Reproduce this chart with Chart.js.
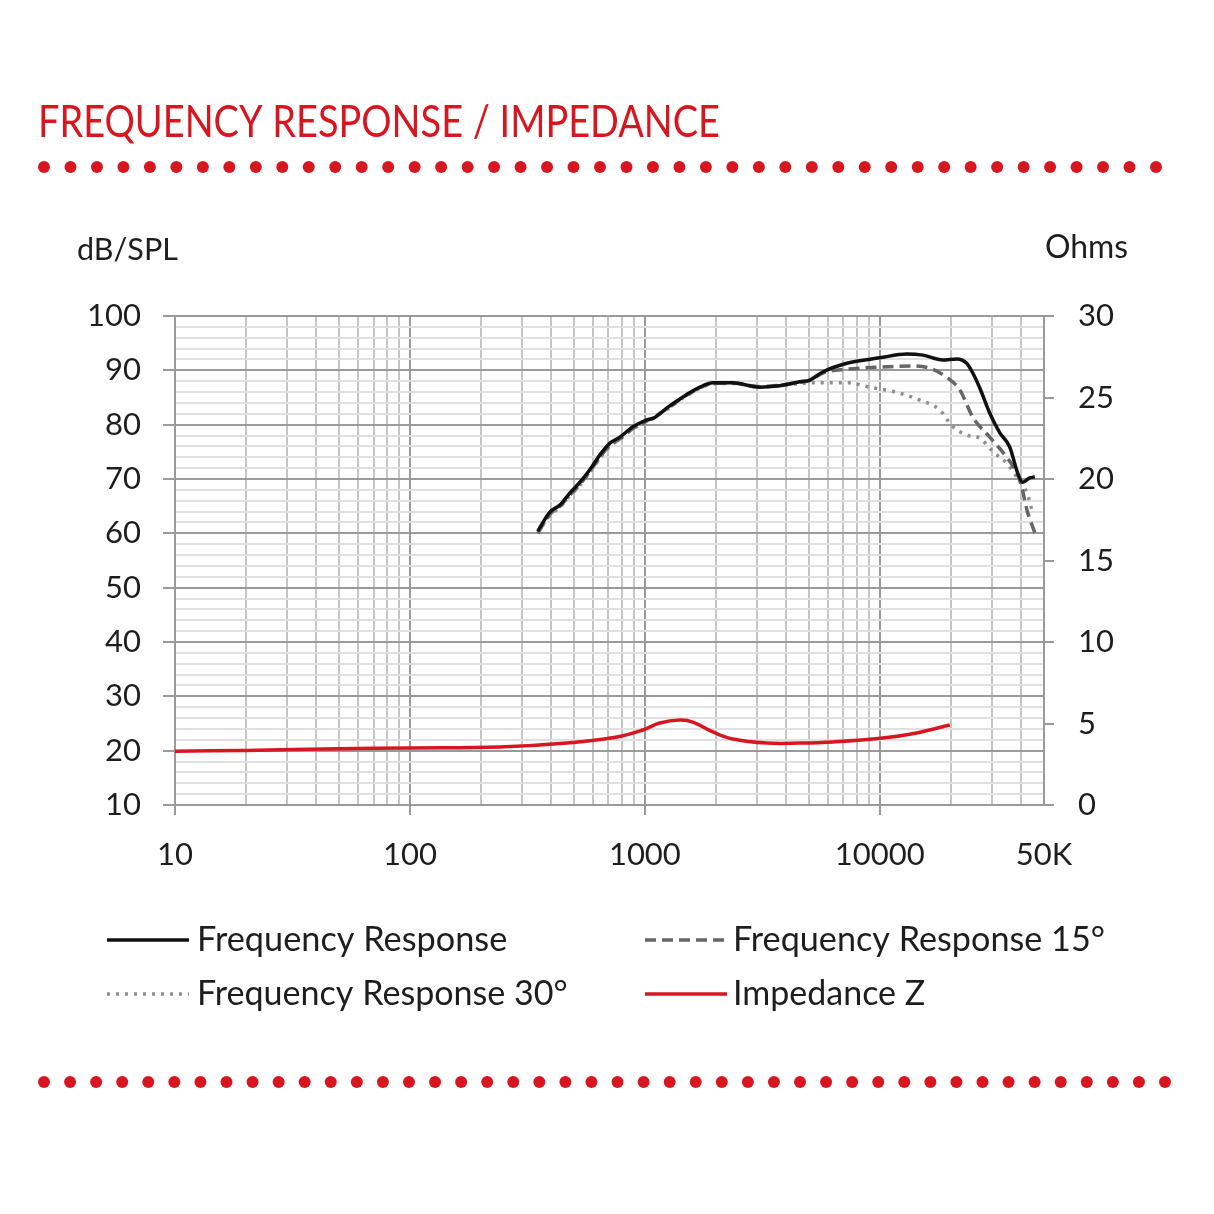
<!DOCTYPE html>
<html>
<head>
<meta charset="utf-8">
<style>
  html, body { margin: 0; padding: 0; background: #fff; }
  #wrap { width: 1214px; height: 1214px; }
</style>
<script src="https://cdn.jsdelivr.net/npm/chart.js@4.4.1/dist/chart.umd.min.js"></script>
</head>
<body>
<div id="wrap"><canvas id="frChart" width="1214" height="1214"></canvas></div>
<script>
// frequency response, 0 deg
const frFreq = [350, 394, 435, 479, 529, 583, 643, 710, 783, 889, 1020, 1090, 1242, 1452, 1715, 1947, 2366, 3083, 3646, 4570, 5035, 5715, 7240, 10000, 13030, 15240, 18530, 21270, 23440, 24880, 26670, 29390, 32430, 35730, 38640, 40600, 43480, 45700];
const frDb = [60.4, 63.9, 65.2, 67.4, 69.4, 71.7, 74.4, 76.6, 77.7, 79.6, 80.9, 81.2, 83.1, 85.1, 86.9, 87.7, 87.7, 86.9, 87.1, 87.9, 88.2, 89.7, 91.3, 92.3, 93.0, 92.8, 91.9, 92.1, 91.3, 89.5, 86.7, 82.1, 78.5, 75.9, 71.1, 69.4, 70.2, 70.4];

// 15 deg
const fr15Freq = [350, 394, 435, 479, 529, 583, 643, 710, 783, 889, 1020, 1242, 1452, 1715, 1947, 2366, 3083, 3646, 4570, 5035, 5715, 7240, 10000, 13740, 16270, 19150, 21900, 24880, 29390, 34700, 38300, 40200, 42300, 45700];
const fr15Db = [60.0, 63.5, 65.0, 67.0, 69.0, 71.4, 74.0, 76.2, 77.4, 79.3, 80.7, 82.9, 85.0, 86.8, 87.6, 87.6, 87.0, 87.2, 87.8, 88.1, 89.5, 90.2, 90.6, 90.8, 90.4, 88.8, 86.4, 81.4, 77.7, 74.0, 71.1, 68.5, 64.3, 60.1];

// 30 deg
const fr30Freq = [350, 394, 435, 479, 529, 583, 643, 710, 783, 889, 1020, 1242, 1452, 1715, 1947, 2366, 3083, 3646, 4570, 5200, 7240, 9040, 11640, 14840, 18000, 20500, 23440, 26670, 30400, 34700, 38300, 42300, 44800];
const fr30Db = [60.2, 63.3, 64.8, 66.9, 68.8, 71.2, 73.8, 76.0, 77.3, 79.2, 80.6, 82.8, 84.9, 86.7, 87.5, 87.6, 87.0, 87.1, 87.6, 87.7, 87.7, 86.9, 86.0, 84.5, 82.7, 79.6, 78.1, 77.5, 75.0, 72.9, 70.4, 67.4, 63.7];

// impedance
const zFreq = [10, 20, 50, 100, 241, 466, 760, 980, 1158, 1409, 1600, 1947, 2366, 3300, 4570, 6320, 10300, 14360, 19860];
const zOhm = [3.3, 3.35, 3.45, 3.5, 3.56, 3.8, 4.17, 4.6, 5.03, 5.21, 5.09, 4.48, 4.05, 3.8, 3.8, 3.87, 4.11, 4.42, 4.91];

const xTicks = [10,20,30,40,50,60,70,80,90,100,200,300,400,500,600,700,800,900,1000,2000,3000,4000,5000,6000,7000,8000,9000,10000,20000,30000,40000,50000];
const xLabels = { 10: '10', 100: '100', 1000: '1000', 10000: '10000', 50000: '50K' };

const titleText = 'FREQUENCY RESPONSE / IMPEDANCE';
const legendNames = ['Frequency Response', 'Frequency Response 15°', 'Frequency Response 30°', 'Impedance Z'];

const RED = '#d8161f';
const FONT = 'Lato, "Open Sans", sans-serif';
const TXT = '#1e1e1e';

function pts(xs, ys) {
    return xs.map((x, i) => ({ x: x, y: ys[i] }));
}

function fitFont(ctx, text, width, weight) {
    ctx.font = (weight || '') + ' 100px ' + FONT;
    const w = ctx.measureText(text).width;
    const size = 100 * width / w;
    ctx.font = (weight || '') + ' ' + size.toFixed(1) + 'px ' + FONT;
}

// text sized by cap height, then squeezed to a given width
function drawFit(ctx, text, x, y, width, size) {
    ctx.font = size + 'px ' + FONT;
    const w = ctx.measureText(text).width;
    ctx.save();
    ctx.translate(x, y);
    ctx.scale(width / w, 1);
    ctx.fillText(text, 0, 0);
    ctx.restore();
}

function dotRow(ctx, y, x0, x1, n) {
    ctx.fillStyle = RED;
    for (let i = 0; i < n; i++) {
        const x = x0 + (x1 - x0) * i / (n - 1);
        ctx.beginPath();
        ctx.arc(x, y, 6, 0, Math.PI * 2);
        ctx.fill();
    }
}

const decorPlugin = {
    id: 'decor',
    afterDraw(chart) {
        const ctx = chart.ctx;
        ctx.save();
        // title
        ctx.fillStyle = RED;
        ctx.textBaseline = 'alphabetic';
        ctx.textAlign = 'left';
        drawFit(ctx, titleText, 38, 137, 682, 45);
        dotRow(ctx, 167, 44, 1156, 43);
        dotRow(ctx, 1082, 44, 1165, 44);

        // axis titles
        ctx.fillStyle = TXT;
        fitFont(ctx, 'dB/SPL', 101);
        ctx.fillText('dB/SPL', 77, 260);
        fitFont(ctx, 'Ohms', 83);
        ctx.fillText('Ohms', 1045, 258);

        // legend
        const ds = chart.data.datasets;
        const slots = [
            { lx: 107, tx: 197, y: 940, w: 310 },
            { lx: 645, tx: 733, y: 940, w: 372 },
            { lx: 107, tx: 197, y: 994, w: 371 },
            { lx: 645, tx: 733, y: 994, w: 192 }
        ];
        slots.forEach((s, i) => {
            const d = ds[i];
            ctx.save();
            ctx.strokeStyle = d.borderColor;
            ctx.lineWidth = d.borderWidth;
            ctx.setLineDash(d.borderDash || []);
            ctx.beginPath();
            ctx.moveTo(s.lx, s.y);
            ctx.lineTo(s.lx + 82, s.y);
            ctx.stroke();
            ctx.restore();
            ctx.fillStyle = TXT;
            ctx.textBaseline = 'middle';
            fitFont(ctx, d.label, s.w);
            ctx.fillText(d.label, s.tx, s.y);
        });
        ctx.restore();
    }
};

const MAJOR = '#9a9a9a';
const MINORV = '#c4c4c4';
const MINORH = '#e0e0e0';

const chart = new Chart(document.getElementById('frChart'), {
    type: 'line',
    data: {
        datasets: [
            {
                label: legendNames[0],
                data: pts(frFreq, frDb),
                borderColor: '#111111',
                borderWidth: 3.5,
                cubicInterpolationMode: 'monotone',
                yAxisID: 'y',
                order: 1
            },
            {
                label: legendNames[1],
                data: pts(fr15Freq, fr15Db),
                borderColor: '#666666',
                borderWidth: 3.5,
                borderDash: [11, 6],
                cubicInterpolationMode: 'monotone',
                yAxisID: 'y',
                order: 2
            },
            {
                label: legendNames[2],
                data: pts(fr30Freq, fr30Db),
                borderColor: '#8e8e8e',
                borderWidth: 3.5,
                borderDash: [3, 6],
                cubicInterpolationMode: 'monotone',
                yAxisID: 'y',
                order: 3
            },
            {
                label: legendNames[3],
                data: pts(zFreq, zOhm),
                borderColor: RED,
                borderWidth: 3.5,
                tension: 0.4,
                yAxisID: 'y2',
                order: 0
            }
        ]
    },
    options: {
        responsive: false,
        animation: false,
        devicePixelRatio: 1,
        layout: { padding: { top: 316, left: 0, right: 0, bottom: 0 } },
        elements: {
            point: { radius: 0 },
            line: { tension: 0.4, fill: false }
        },
        plugins: {
            legend: { display: false },
            tooltip: { enabled: false },
            title: { display: false }
        },
        scales: {
            x: {
                type: 'logarithmic',
                min: 10,
                max: 50000,
                afterBuildTicks: (scale) => {
                    scale.ticks = xTicks.map(v => ({ value: v }));
                },
                afterFit: (scale) => { scale.height = 409; },
                ticks: {
                    autoSkip: false,
                    maxRotation: 0,
                    padding: 21,
                    color: TXT,
                    font: { family: FONT, size: 31 },
                    callback: (v) => xLabels[v] || ''
                },
                grid: {
                    color: (c) => (xLabels[c.tick.value] && c.tick.value !== 50000) ? MAJOR : MINORV,
                    lineWidth: 2,
                    tickLength: 10,
                    tickColor: (c) => (xLabels[c.tick.value] && c.tick.value !== 50000) ? MAJOR : 'rgba(0,0,0,0)'
                },
                border: { display: true, color: MAJOR, width: 2 }
            },
            y: {
                position: 'left',
                min: 10,
                max: 100,
                afterFit: (scale) => { scale.width = 175; },
                ticks: {
                    stepSize: 2,
                    autoSkip: false,
                    padding: 22,
                    color: TXT,
                    font: { family: FONT, size: 31 },
                    callback: (v) => (v % 10 === 0 ? String(v) : '')
                },
                grid: {
                    color: (c) => (c.tick.value % 10 === 0 ? MAJOR : MINORH),
                    lineWidth: 2,
                    tickLength: 12,
                    tickColor: (c) => (c.tick.value % 10 === 0 ? MAJOR : 'rgba(0,0,0,0)')
                },
                border: { display: true, color: MAJOR, width: 2 }
            },
            y2: {
                position: 'right',
                min: 0,
                max: 30,
                afterFit: (scale) => { scale.width = 170; },
                ticks: {
                    stepSize: 5,
                    padding: 24,
                    color: TXT,
                    font: { family: FONT, size: 31 }
                },
                grid: {
                    drawOnChartArea: false,
                    color: MAJOR,
                    lineWidth: 2,
                    tickLength: 10
                },
                border: { display: true, color: MAJOR, width: 2 }
            }
        }
    },
    plugins: [decorPlugin]
});
</script>
</body>
</html>
